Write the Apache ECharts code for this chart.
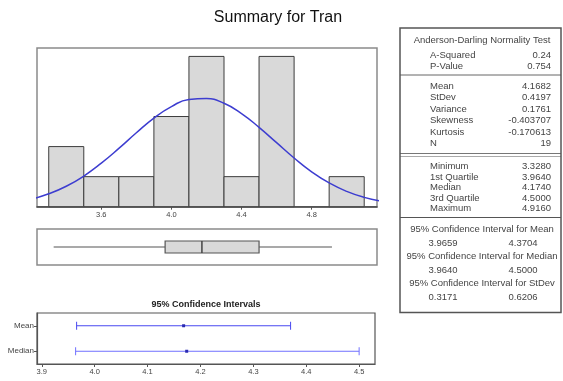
<!DOCTYPE html>
<html><head><meta charset="utf-8">
<script src="https://cdn.jsdelivr.net/npm/echarts/dist/echarts.min.js"></script>
<style>html,body{margin:0;padding:0;background:#fff}#c{width:563px;height:381px}</style>
</head><body><div id="c"></div>
<script>
// ---- data ----
const chartTitle = 'Summary for Tran';
const binMids = [3.4, 3.6, 3.8, 4.0, 4.2, 4.4, 4.6, 4.8, 5.0];
const binCounts = [2, 1, 1, 3, 5, 1, 5, 0, 1];
const binWidth = 0.2;
const histTicks = [3.6, 4.0, 4.4, 4.8];
const curveX = [3.2, 3.3, 3.4, 3.5, 3.6, 3.7, 3.8, 3.9, 4.0, 4.1, 4.2, 4.3, 4.4, 4.5, 4.6, 4.7, 4.8, 4.9, 5.0, 5.1, 5.2];
const curveY = [0.25, 0.43, 0.68, 1.02, 1.45, 1.94, 2.46, 2.95, 3.33, 3.57, 3.60, 3.44, 3.10, 2.64, 2.13, 1.62, 1.16, 0.79, 0.51, 0.31, 0.18];
const boxStats = [3.328, 3.964, 4.174, 4.500, 4.916];
const ciTitle = '95% Confidence Intervals';
const ciCategories = ['Mean', 'Median'];
const ciLow = [3.9659, 3.9640];
const ciCenter = [4.1682, 4.1740];
const ciHigh = [4.3704, 4.5000];
const ciTicks = [3.9, 4.0, 4.1, 4.2, 4.3, 4.4, 4.5];
const adTitle = 'Anderson-Darling Normality Test';
const adLabels = ['A-Squared', 'P-Value'];
const adValues = ['0.24', '0.754'];
const momentLabels = ['Mean', 'StDev', 'Variance', 'Skewness', 'Kurtosis', 'N'];
const momentValues = ['4.1682', '0.4197', '0.1761', '-0.403707', '-0.170613', '19'];
const quantLabels = ['Minimum', '1st Quartile', 'Median', '3rd Quartile', 'Maximum'];
const quantValues = ['3.3280', '3.9640', '4.1740', '4.5000', '4.9160'];
const ciTableTitles = ['95% Confidence Interval for Mean', '95% Confidence Interval for Median', '95% Confidence Interval for StDev'];
const ciTableLow = ['3.9659', '3.9640', '0.3171'];
const ciTableHigh = ['4.3704', '4.5000', '0.6206'];

// ---- layout ----
const FONT = '"Liberation Sans", Arial, sans-serif';
const TXT = '#444';
const TS = 9.5;
const tL = 400, tR = 561, tTop = 28;
const labX = 430, valX = 551, midX = 482, ciLX = 443, ciRX = 523;

const graphics = [];
function text(str, x, y, align, size, weight, color) {
  graphics.push({type: 'text', x: x, y: y, silent: true,
    style: {text: str, x: 0, y: 0, align: align, verticalAlign: 'middle', font: (weight || 'normal') + ' ' + (size || TS) + 'px ' + FONT, fill: color || TXT}});
}
function hline(y, color, w) {
  graphics.push({type: 'line', silent: true, shape: {x1: tL, y1: y, x2: tR, y2: y}, style: {stroke: color || '#666', lineWidth: w || 1}});
}
// main title
text(chartTitle, 278, 18, 'center', 16, 'normal', '#111');
// table
let y = 40;
text(adTitle, midX, y, 'center');
y += 15;
adLabels.forEach((l, i) => { text(l, labX, y, 'left'); text(adValues[i], valX, y, 'right'); y += 11; });
const sep1 = y - 2; hline(sep1, '#666', 1);
y = sep1 + 11;
momentLabels.forEach((l, i) => { text(l, labX, y, 'left'); text(momentValues[i], valX, y, 'right'); y += 11.5; });
const sep2 = Math.round(y - 2) + 0.5; hline(sep2, '#777', 1); hline(sep2 + 3, '#aaa', 1);
y = sep2 + 13;
quantLabels.forEach((l, i) => { text(l, labX, y, 'left'); text(quantValues[i], valX, y, 'right'); y += 10.5; });
const sep3 = y - 1.5; hline(sep3, '#555', 1.2);
y = sep3 + 12;
ciTableTitles.forEach((t, i) => {
  text(t, midX, y, 'center'); y += 13.5;
  text(ciTableLow[i], ciLX, y, 'center'); text(ciTableHigh[i], ciRX, y, 'center'); y += 13.5;
});
const tBot = y + 2;
graphics.push({type: 'rect', silent: true, shape: {x: tL, y: tTop, width: tR - tL, height: tBot - tTop}, style: {fill: 'none', stroke: '#555', lineWidth: 1.5}});
// CI chart title
text(ciTitle, 206, 305, 'center', 9, 'bold', '#222');

const chart = echarts.init(document.getElementById('c'), null, {renderer: 'canvas'});
const option = {
  animation: false,
  backgroundColor: '#fff',
  graphic: graphics,
  grid: [
    {left: 37, top: 48, width: 340, height: 158.7, show: true, borderColor: '#8a8a8a', borderWidth: 1.5},
    {left: 37, top: 229, width: 340, height: 36, show: true, borderColor: '#8a8a8a', borderWidth: 1.5},
    {left: 37, top: 313, width: 338, height: 51, show: true, borderColor: '#555', borderWidth: 1.2}
  ],
  xAxis: [
    {type: 'value', gridIndex: 0, min: 3.233, max: 5.173,
      axisLine: {show: true, onZero: false, lineStyle: {color: '#444', width: 1.5}},
      axisTick: {show: true, customValues: histTicks, length: 3, lineStyle: {color: '#555'}},
      axisLabel: {customValues: histTicks, formatter: v => v.toFixed(1), fontSize: 7.5, color: '#444', margin: 4, fontFamily: FONT},
      splitLine: {show: false}},
    {type: 'value', gridIndex: 1, min: 3.233, max: 5.173, show: false},
    {type: 'value', gridIndex: 2, min: 3.891, max: 4.53,
      axisLine: {show: true, onZero: false, lineStyle: {color: '#555', width: 1.2}},
      axisTick: {show: true, customValues: ciTicks, length: 3, lineStyle: {color: '#555'}},
      axisLabel: {customValues: ciTicks, formatter: v => v.toFixed(1), fontSize: 7.5, color: '#444', margin: 4, fontFamily: FONT},
      splitLine: {show: false}}
  ],
  yAxis: [
    {type: 'value', gridIndex: 0, min: 0, max: 5.28, show: false},
    {type: 'value', gridIndex: 1, min: 0, max: 1, show: false},
    {type: 'category', gridIndex: 2, data: ciCategories, inverse: true,
      axisLine: {show: true, lineStyle: {color: '#555', width: 1.2}},
      axisTick: {show: true, alignWithLabel: true, length: 3, lineStyle: {color: '#555'}},
      axisLabel: {fontSize: 8, color: '#444', margin: 3, fontFamily: FONT},
      splitLine: {show: false}}
  ],
  series: [
    {type: 'custom', xAxisIndex: 0, yAxisIndex: 0, z: 2,
      data: binMids.map((m, i) => [m, binCounts[i]]),
      renderItem: (params, api) => {
        const m = api.value(0), c = api.value(1);
        if (!c) return null;
        const p0 = api.coord([m - binWidth / 2, c]);
        const p1 = api.coord([m + binWidth / 2, 0]);
        return {type: 'rect', shape: {x: p0[0], y: p0[1], width: p1[0] - p0[0], height: p1[1] - p0[1]},
          style: {fill: '#d9d9d9', stroke: '#3c3c3c', lineWidth: 1}};
      }},
    {type: 'line', xAxisIndex: 0, yAxisIndex: 0, z: 3, smooth: true, symbol: 'none', clip: true,
      data: curveX.map((x, i) => [x, curveY[i]]),
      lineStyle: {color: '#3d3dd0', width: 1.5}},
    {type: 'custom', xAxisIndex: 1, yAxisIndex: 1, z: 3,
      data: [boxStats],
      renderItem: (params, api) => {
        const v = [0, 1, 2, 3, 4].map(k => api.coord([api.value(k), 0.5]));
        const cy = v[0][1], h = 6;
        const st = {stroke: '#555', lineWidth: 1.2};
        return {type: 'group', children: [
          {type: 'line', shape: {x1: v[0][0], y1: cy, x2: v[1][0], y2: cy}, style: st},
          {type: 'line', shape: {x1: v[3][0], y1: cy, x2: v[4][0], y2: cy}, style: st},
          {type: 'rect', shape: {x: v[1][0], y: cy - h, width: v[3][0] - v[1][0], height: 2 * h}, style: {fill: '#d9d9d9', stroke: '#555', lineWidth: 1.2}},
          {type: 'line', shape: {x1: v[2][0], y1: cy - h, x2: v[2][0], y2: cy + h}, style: {stroke: '#444', lineWidth: 1.5}}
        ]};
      }},
    {type: 'custom', xAxisIndex: 2, yAxisIndex: 2, z: 3,
      data: ciCategories.map((c, i) => [i, ciLow[i], ciCenter[i], ciHigh[i]]),
      renderItem: (params, api) => {
        const i = api.value(0);
        const a = api.coord([api.value(1), i]);
        const m = api.coord([api.value(2), i]);
        const b = api.coord([api.value(3), i]);
        const col = i === 0 ? '#4848f0' : '#7070ff';
        const st = {stroke: col, lineWidth: 1};
        return {type: 'group', children: [
          {type: 'line', shape: {x1: a[0], y1: a[1], x2: b[0], y2: b[1]}, style: st},
          {type: 'line', shape: {x1: a[0], y1: a[1] - 4, x2: a[0], y2: a[1] + 4}, style: st},
          {type: 'line', shape: {x1: b[0], y1: b[1] - 4, x2: b[0], y2: b[1] + 4}, style: st},
          {type: 'rect', shape: {x: m[0] - 1.5, y: m[1] - 1.5, width: 3, height: 3}, style: {fill: '#2a2ab0'}}
        ]};
      }}
  ]
};
chart.setOption(option);
</script>
</body></html>
